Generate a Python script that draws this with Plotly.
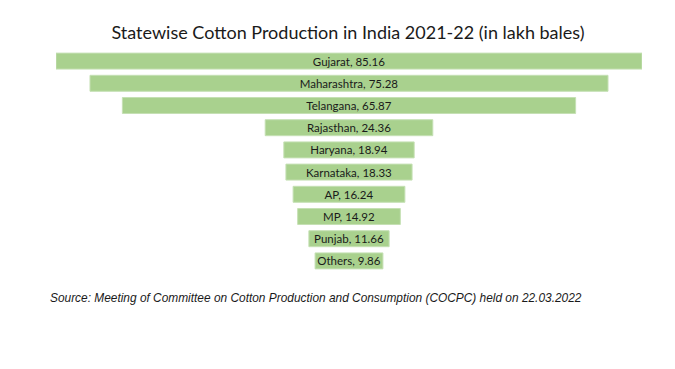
import plotly.graph_objects as go

states = ["Gujarat", "Maharashtra", "Telangana", "Rajasthan", "Haryana",
          "Karnataka", "AP", "MP", "Punjab", "Others"]
production = [85.16, 75.28, 65.87, 24.36, 18.94, 18.33, 16.24, 14.92, 11.66, 9.86]
title_text = "Statewise Cotton Production in India 2021-22 (in lakh bales)"
source_text = "Source: Meeting of Committee on Cotton Production and Consumption (COCPC) held on 22.03.2022"

labels = [f"{s}, {v:.2f}" for s, v in zip(states, production)]

# page body has an 8px default margin; compensate
OFF = 8
W, H = 675 - OFF, 369 - OFF
L, R, T, B = 56 - OFF, 33, 50 - OFF, 97

fig = go.Figure(go.Funnel(
    y=states,
    x=production,
    text=labels,
    textinfo="text",
    textposition="inside",
    insidetextanchor="middle",
    constraintext="none",
    textfont=dict(family="Lato, Open Sans, sans-serif", size=11.5, color="#1a1a1a"),
    marker=dict(color="#a9d18e", line=dict(color="#c5e0b4", width=1)),
    connector=dict(visible=False),
    hoverinfo="text",
))

half = max(production) / 2
pw = W - L - R
ph = H - T - B
fig.update_layout(
    width=W, height=H,
    margin=dict(l=L, r=R, t=T, b=B),
    paper_bgcolor="white", plot_bgcolor="white",
    showlegend=False,
    funnelgap=0.28,
    title=dict(text=title_text, x=(348 - OFF) / W, xanchor="center", xref="container",
               y=1 - (33 - OFF) / H, yanchor="middle", yref="container",
               font=dict(family="Lato, Open Sans, sans-serif", size=18, color="#1a1a1a")),
    xaxis=dict(range=[-half, half], visible=False, fixedrange=True),
    yaxis=dict(visible=False, categoryorder="array", categoryarray=states,
               autorange="reversed"),
    annotations=[dict(text=source_text,
                      x=(48 - OFF - L) / pw, y=(H - B - (298 - OFF)) / ph,
                      xref="paper", yref="paper", xanchor="left", yanchor="middle",
                      showarrow=False,
                      font=dict(family="Liberation Sans, Arial", size=11.9,
                                color="#1a1a1a", style="italic"))],
)

fig.write_html("out.html")
